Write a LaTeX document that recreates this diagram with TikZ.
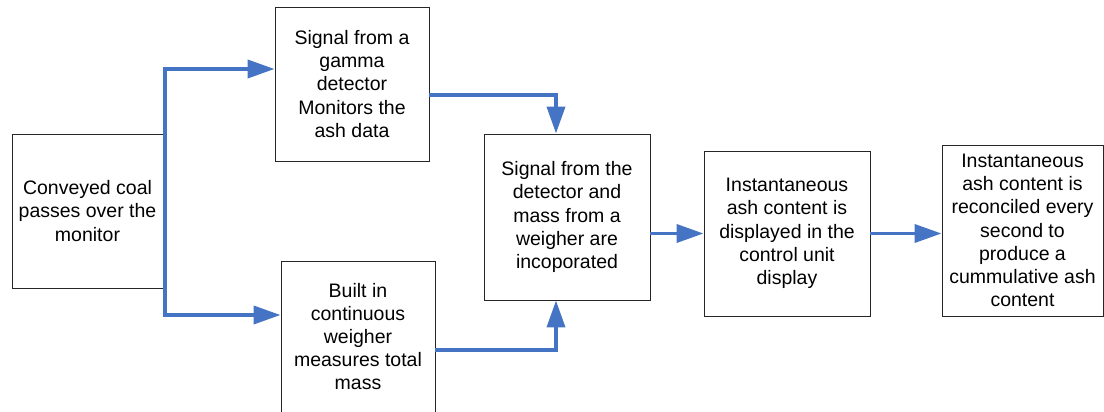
\documentclass[tikz,border=0pt]{standalone}
\usepackage{fontspec}
\setmainfont{Liberation Sans}
\usetikzlibrary{arrows.meta}
\definecolor{flowblue}{RGB}{70,116,196}
\tikzset{
  stage/.style={draw=black!85, line width=0.9pt, inner sep=0pt, align=center,
    font=\fontsize{19.5}{23.2}\selectfont},
  flow/.style={draw=flowblue, line width=3.8pt,
    -{Triangle[length=27pt,width=18pt]}}
}
\begin{document}
\begin{tikzpicture}[x=1pt,y=-1pt]
\useasboundingbox (0,0) rectangle (1104,412);

% process stages
\node[stage, minimum width=151pt, minimum height=154pt] (a) at (87.5,211)
  {Conveyed coal\\passes over the\\monitor};
\node[stage, minimum width=154pt, minimum height=154pt] (b) at (352,84)
  {Signal from a\\gamma\\detector\\Monitors the\\ash data};
\node[stage, minimum width=154pt, minimum height=151pt] (c) at (358,336.5)
  {Built in\\continuous\\weigher\\measures total\\mass};
\node[stage, minimum width=166pt, minimum height=166pt] (d) at (567,217)
  {Signal from the\\detector and\\mass from a\\weigher are\\incoporated};
\node[stage, minimum width=166pt, minimum height=165pt] (e) at (787,233.5)
  {Instantaneous\\ash content is\\displayed in the\\control unit\\display};
\node[stage, minimum width=161pt, minimum height=171pt] (f) at (1022.5,230.5)
  {Instantaneous\\ash content is\\reconciled every\\second to\\produce a\\cummulative ash\\content};

% branch next to the monitor
\coordinate (split) at (165,211);
\draw[flow] (split) |- ([yshift=15pt]b.west);
\draw[flow] (split) |- ([yshift=21.5pt]c.west);

% detector and weigher signals merge
\draw[flow] ([yshift=-11pt]b.east) -| ([xshift=-11pt]d.north);
\draw[flow] ([yshift=-13.5pt]c.east) -| ([xshift=-11pt]d.south);

% output chain
\draw[flow] (d.east |- e.west) -- (e.west);
\draw[flow] (e.east) -- (e.east -| f.west);
\end{tikzpicture}
\end{document}
